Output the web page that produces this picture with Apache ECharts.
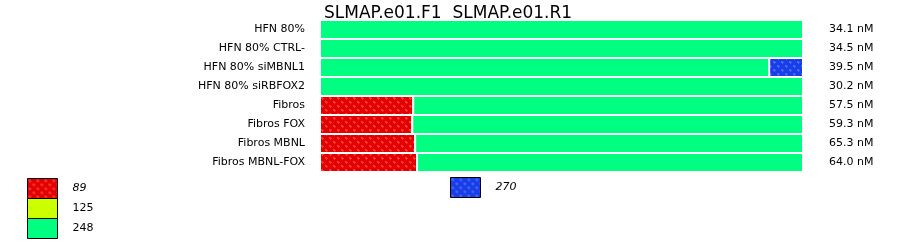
<!DOCTYPE html>
<html><head><meta charset="utf-8">
<script src="https://cdn.jsdelivr.net/npm/echarts@6/dist/echarts.min.js"></script>
<style>html,body{margin:0;padding:0;background:#fff}#c{width:900px;height:242px}</style>
</head><body><div id="c"></div>
<script>
var titleText = 'SLMAP.e01.F1  SLMAP.e01.R1';
var categories = ['HFN 80%','HFN 80% CTRL-','HFN 80% siMBNL1','HFN 80% siRBFOX2','Fibros','Fibros FOX','Fibros MBNL','Fibros MBNL-FOX'];
var concentrations = ['34.1 nM','34.5 nM','39.5 nM','30.2 nM','57.5 nM','59.3 nM','65.3 nM','64.0 nM'];
var seriesNames = ['89','125','248','270'];
var s89  = [0, 0, 0, 0, 19.3, 19.1, 19.7, 20.1];
var s125 = [0, 0, 0, 0, 0, 0, 0, 0];
var s248 = [100, 100, 93.0, 100, 80.7, 80.9, 80.3, 79.9];
var s270 = [0, 0, 7.0, 0, 0, 0, 0, 0];
var values = [s89, s125, s248, s270];

function pattern(base, dot){
  var c = document.createElement('canvas'); c.width = 8; c.height = 8;
  var g = c.getContext('2d');
  g.fillStyle = base; g.fillRect(0,0,8,8);
  g.fillStyle = dot;
  [[2,2],[6,6]].forEach(function(p){
    var x=p[0], y=p[1];
    g.fillRect(x-1,y,3,1); g.fillRect(x,y-1,1,3);
    g.fillRect(x-1,y-1,2,2);
  });
  return {image: c, repeat: 'repeat'};
}
var colors = [pattern('#e20000','#ff3434'), '#ccff00', '#00ff80', pattern('#1a3de8','#3a6cff')];
var FONT = 'DejaVu Sans';

var series = seriesNames.map(function(n, i){
  return {
    name: n, type: 'bar', stack: 'all', barWidth: 19,
    data: values[i],
    itemStyle: {color: colors[i], borderColor: '#fff', borderWidth: 1},
    emphasis: {disabled: true},
    animation: false
  };
});

var legendCommon = {orient: 'vertical', itemWidth: 30, itemHeight: 20, itemGap: -1, padding: 0,
  icon: 'rect', selectedMode: false,
  itemStyle: {borderColor: '#000', borderWidth: 1},
  textStyle: {fontFamily: FONT, fontSize: 11, color: '#000', padding: [0,0,0,10]}};

var chart = echarts.init(document.getElementById('c'), null, {renderer: 'canvas'});
chart.setOption({
  animation: false,
  title: {text: titleText, left: 324, top: 3, padding: [2, 0],
    textStyle: {fontFamily: FONT, fontSize: 17, fontWeight: 'normal', color: '#000'}},
  grid: {left: 320, right: 97, top: 20, height: 152},
  xAxis: {type: 'value', min: 0, max: 100, show: false},
  yAxis: [
    {type: 'category', data: categories, inverse: true, position: 'left',
     axisLine: {show: false}, axisTick: {show: false},
     axisLabel: {margin: 15, fontFamily: FONT, fontSize: 11, color: '#000'}},
    {type: 'category', data: concentrations, inverse: true, position: 'right',
     axisLine: {show: false}, axisTick: {show: false},
     axisLabel: {margin: 26, fontFamily: FONT, fontSize: 11, color: '#000'}}
  ],
  legend: [
    Object.assign({left: 27, top: 178, height: 64,
     data: [{name: '89', textStyle: {fontStyle: 'italic'}}, {name: '125'}, {name: '248'}]}, legendCommon),
    Object.assign({left: 450, top: 177,
     data: [{name: '270', textStyle: {fontStyle: 'italic'}}]}, legendCommon)
  ],
  series: series
});
</script></body></html>
